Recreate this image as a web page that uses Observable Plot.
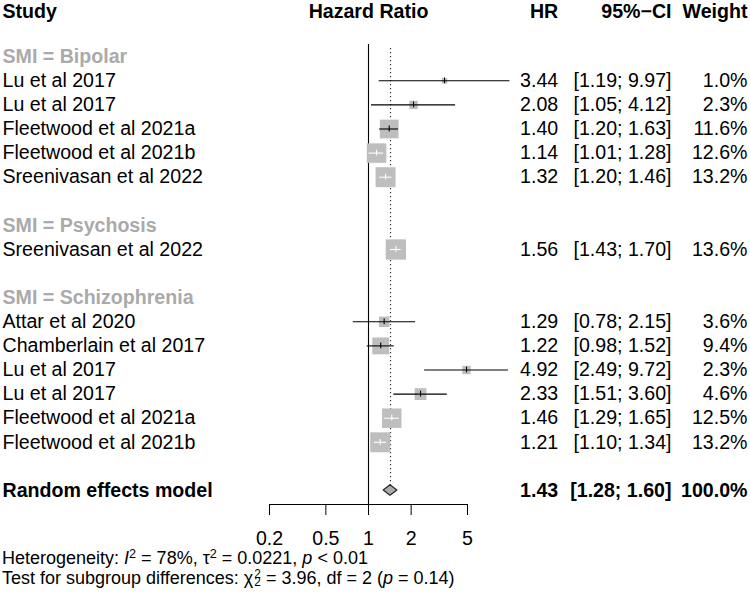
<!DOCTYPE html>
<html>
<head>
<meta charset="utf-8">
<script src="https://cdn.jsdelivr.net/npm/d3@7"></script>
<script src="https://cdn.jsdelivr.net/npm/@observablehq/plot@0.6"></script>
<style>
  body { margin: 0; background: #fff; }
  #chart svg { display: block; }
  .foot { font-family: "Liberation Sans", Arial, sans-serif; font-size: 18px; line-height: 20px; height: 20px; color: #000; padding-left: 2px; white-space: nowrap; }
  .foot sup { font-size: 70%; line-height: 0; vertical-align: 0.5em; }
  .ss { display: inline-block; vertical-align: middle; line-height: 0.72; font-size: 66%; text-align: left; margin-left: 1px; position: relative; top: -1px; }
</style>
</head>
<body>
<div id="chart"></div>
<div class="foot">Heterogeneity: <i>I</i><sup>2</sup> = 78%, τ<sup>2</sup> = 0.0221, <i>p</i> &lt; 0.01</div>
<div class="foot">Test for subgroup differences: χ<span class="ss">2<br>2</span> = 3.96, df = 2 (<i>p</i> = 0.14)</div>
<script>
// ---- data ----
const groups = ["Bipolar", "Psychosis", "Schizophrenia"];
const studies = ["Lu et al 2017", "Lu et al 2017", "Fleetwood et al 2021a", "Fleetwood et al 2021b", "Sreenivasan et al 2022",
                 "Sreenivasan et al 2022",
                 "Attar et al 2020", "Chamberlain et al 2017", "Lu et al 2017", "Lu et al 2017", "Fleetwood et al 2021a", "Fleetwood et al 2021b"];
const subgroup = ["Bipolar", "Bipolar", "Bipolar", "Bipolar", "Bipolar",
                  "Psychosis",
                  "Schizophrenia", "Schizophrenia", "Schizophrenia", "Schizophrenia", "Schizophrenia", "Schizophrenia"];
const hr     = [3.44, 2.08, 1.40, 1.14, 1.32, 1.56, 1.29, 1.22, 4.92, 2.33, 1.46, 1.21];
const lower  = [1.19, 1.05, 1.20, 1.01, 1.20, 1.43, 0.78, 0.98, 2.49, 1.51, 1.29, 1.10];
const upper  = [9.97, 4.12, 1.63, 1.28, 1.46, 1.70, 2.15, 1.52, 9.72, 3.60, 1.65, 1.34];
const weight = [1.0, 2.3, 11.6, 12.6, 13.2, 13.6, 3.6, 9.4, 2.3, 4.6, 12.5, 13.2];
const modelLabel = "Random effects model";
const modelHR = 1.43, modelLower = 1.28, modelUpper = 1.60, modelWeight = 100.0;
const xTicks = [0.2, 0.5, 1, 2, 5];
const headers = ["Study", "Hazard Ratio", "HR", "95%\u2212CI", "Weight"];

// ---- layout (rows) ----
const rows = [];      // study rows
const labels = [];    // subgroup label rows
let r = 0;
for (const g of groups) {
  labels.push({row: r++, text: "SMI = " + g});
  studies.forEach((s, i) => {
    if (subgroup[i] === g) rows.push({row: r++, study: s, hr: hr[i], lo: lower[i], hi: upper[i], w: weight[i]});
  });
  r++;
}
const modelRow = r;
const headerRow = -1.86;

// geometry constants
const W = 750, marginLeft = 269, marginRight = 283, marginTop = 44, marginBottom = 44, H = 548;
const pxPerDecade = (W - marginLeft - marginRight) / Math.log10(25);
const sideK = 5.5; // square side (px) per sqrt(weight)
rows.forEach(d => {
  const half = sideK * Math.sqrt(d.w) / 2 / pxPerDecade;
  const c = Math.log10(d.hr);
  d.inside = Math.log10(d.lo) >= c - half && Math.log10(d.hi) <= c + half;
});

const fmt2 = v => v.toFixed(2);
const ciText = (lo, hi) => `[${fmt2(lo)}; ${fmt2(hi)}]`;

const diamondH = 0.22;
const diamond = [
  {y: modelRow - diamondH, x1: modelHR, x2: modelHR},
  {y: modelRow, x1: modelLower, x2: modelUpper},
  {y: modelRow + diamondH, x1: modelHR, x2: modelHR}
];

const font = "Liberation Sans, Arial, sans-serif";
const fs = 19.6;
const colHR = 90.7, colCI = 204, colW = 280, colStudy = -267;

const chart = Plot.plot({
  width: W, height: H,
  marginLeft, marginRight, marginTop, marginBottom,
  style: {fontFamily: font, background: "#fff", overflow: "visible"},
  x: {type: "log", domain: [0.2, 5], axis: null},
  y: {domain: [0, 18], range: [56.2, 490], axis: null},
  r: {type: "sqrt", domain: [0, 13.6], range: [0, sideK * Math.sqrt(13.6) / Math.sqrt(Math.PI)]},
  marks: [
    // axis
    Plot.frame({anchor: "bottom", stroke: "#000", strokeWidth: 1}),
    Plot.axisX({ticks: xTicks, tickFormat: d => String(d), tickSize: 11, tickPadding: 16, fontSize: fs, stroke: "#000", strokeOpacity: 1, color: "#000"}),
    // line of no effect
    Plot.ruleX([1], {stroke: "#000", strokeWidth: 1.1}),
    // pooled estimate dotted line
    Plot.ruleX([modelHR], {stroke: "#333", strokeWidth: 1.2, strokeDasharray: "1.2,2.8", insetTop: 4, insetBottom: 18}),
    // squares
    Plot.dot(rows, {x: "hr", y: "row", r: "w", symbol: "square", fill: "#bebebe", stroke: null}),
    // confidence intervals
    Plot.ruleY(rows, {y: "row", x1: "lo", x2: "hi", stroke: d => d.inside ? "#fff" : "#000", strokeWidth: 1.1}),
    Plot.ruleX(rows, {x: "hr", y1: d => d.row - 0.12, y2: d => d.row + 0.12, stroke: d => d.inside ? "#fff" : "#000", strokeWidth: 1.1}),
    // diamond
    Plot.areaX(diamond, {y: "y", x1: "x1", x2: "x2", fill: "#aaaaaa", stroke: "#222", strokeWidth: 1.1, curve: "linear"}),
    // headers
    Plot.text([headers[0]], {text: d => d, y: () => headerRow, frameAnchor: "left", dx: colStudy, textAnchor: "start", fontWeight: "bold", fontSize: fs, fill: "#000"}),
    Plot.text([headers[1]], {text: d => d, y: () => headerRow, frameAnchor: "middle", fontWeight: "bold", fontSize: fs, fill: "#000"}),
    Plot.text([headers[2]], {text: d => d, y: () => headerRow, frameAnchor: "right", dx: colHR, textAnchor: "end", fontWeight: "bold", fontSize: fs, fill: "#000"}),
    Plot.text([headers[3]], {text: d => d, y: () => headerRow, frameAnchor: "right", dx: colCI, textAnchor: "end", fontWeight: "bold", fontSize: fs, fill: "#000"}),
    Plot.text([headers[4]], {text: d => d, y: () => headerRow, frameAnchor: "right", dx: colW, textAnchor: "end", fontWeight: "bold", fontSize: fs, fill: "#000"}),
    // subgroup labels
    Plot.text(labels, {text: "text", y: "row", frameAnchor: "left", dx: colStudy, textAnchor: "start", fontWeight: "bold", fontSize: fs, fill: "#aaaaaa"}),
    // study rows
    Plot.text(rows, {text: "study", y: "row", frameAnchor: "left", dx: colStudy, textAnchor: "start", fontSize: fs, fill: "#000"}),
    Plot.text(rows, {text: d => fmt2(d.hr), y: "row", frameAnchor: "right", dx: colHR, textAnchor: "end", fontSize: fs, fill: "#000"}),
    Plot.text(rows, {text: d => ciText(d.lo, d.hi), y: "row", frameAnchor: "right", dx: colCI, textAnchor: "end", fontSize: fs, fill: "#000"}),
    Plot.text(rows, {text: d => d.w.toFixed(1) + "%", y: "row", frameAnchor: "right", dx: colW, textAnchor: "end", fontSize: fs, fill: "#000"}),
    // model row
    Plot.text([modelLabel], {text: d => d, y: () => modelRow, frameAnchor: "left", dx: colStudy, textAnchor: "start", fontWeight: "bold", fontSize: fs, fill: "#000"}),
    Plot.text([modelHR], {text: d => fmt2(d), y: () => modelRow, frameAnchor: "right", dx: colHR, textAnchor: "end", fontWeight: "bold", fontSize: fs, fill: "#000"}),
    Plot.text([modelLower], {text: () => ciText(modelLower, modelUpper), y: () => modelRow, frameAnchor: "right", dx: colCI, textAnchor: "end", fontWeight: "bold", fontSize: fs, fill: "#000"}),
    Plot.text([modelWeight], {text: d => d.toFixed(1) + "%", y: () => modelRow, frameAnchor: "right", dx: colW, textAnchor: "end", fontWeight: "bold", fontSize: fs, fill: "#000"})
  ]
});
document.getElementById("chart").appendChild(chart);
</script>
</body>
</html>
